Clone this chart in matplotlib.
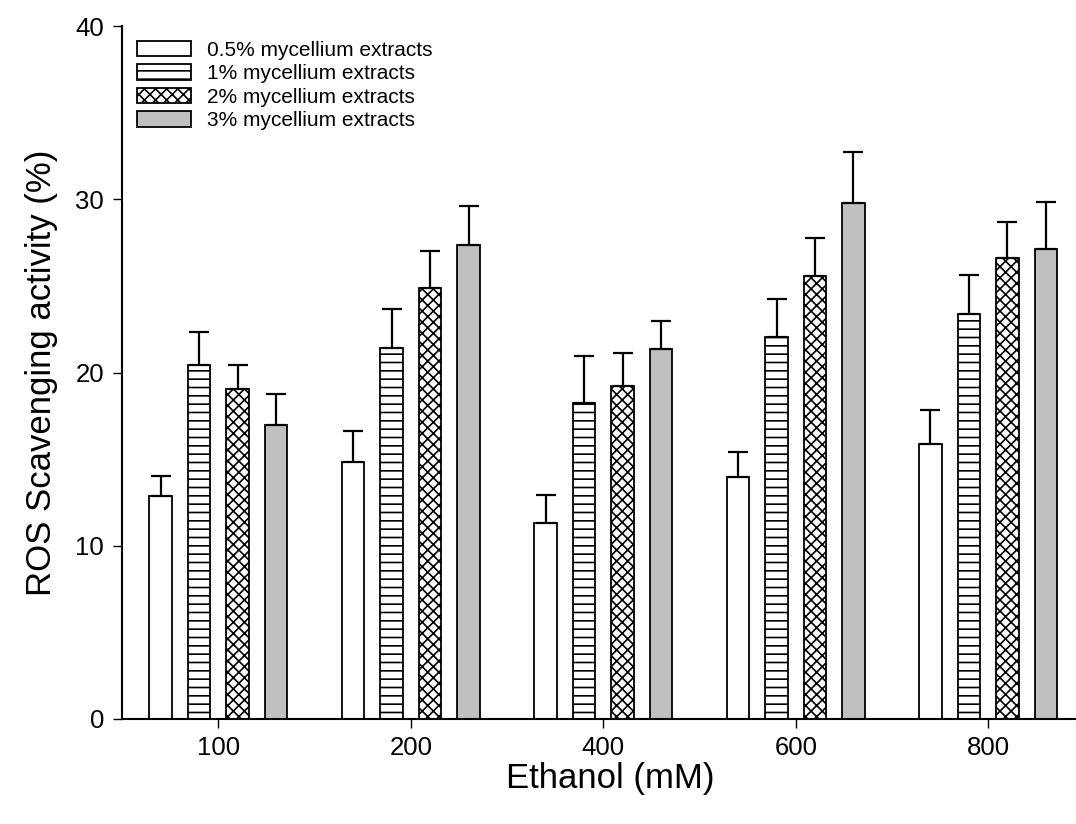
import matplotlib
matplotlib.use("Agg")
import matplotlib.pyplot as plt
import numpy as np

conc = ['100', '200', '400', '600', '800']
series = ['0.5% mycellium extracts', '1% mycellium extracts',
          '2% mycellium extracts', '3% mycellium extracts']
s05 = [12.9, 14.85, 11.3, 13.95, 15.9]
e05 = [1.15, 1.75, 1.65, 1.45, 1.95]
s1 = [20.45, 21.4, 18.25, 22.05, 23.4]
e1 = [1.9, 2.25, 2.7, 2.2, 2.25]
s2 = [19.05, 24.9, 19.2, 25.55, 26.6]
e2 = [1.4, 2.1, 1.95, 2.2, 2.1]
s3 = [16.95, 27.35, 21.35, 29.8, 27.15]
e3 = [1.8, 2.25, 1.6, 2.9, 2.7]

plt.rcParams['font.family'] = ['Liberation Sans', 'DejaVu Sans']
plt.rcParams['hatch.linewidth'] = 1.2

W, H = 1076, 824
fig = plt.figure(figsize=(W / 100, H / 100), dpi=100)
left, right, bottom, top = 121.5, 1076, 719, 26
ax = fig.add_axes([left / W, (H - bottom) / H, (right - left) / W, (bottom - top) / H])

x = np.arange(len(conc))
width = 0.118
offsets = [-0.3, -0.1, 0.1, 0.3]
vals = [s05, s1, s2, s3]
errs = [e05, e1, e2, e3]
faces = ['white', 'white', 'white', '#c0c0c0']
hatches = [None, '--', 'xxx', None]

for i in range(4):
    ax.bar(x + offsets[i], vals[i], width, color=faces[i], edgecolor='black',
           linewidth=1.3, hatch=hatches[i], label=series[i], zorder=2)
    ax.errorbar(x + offsets[i], vals[i], yerr=[np.zeros(len(conc)), errs[i]],
                fmt='none', ecolor='black', elinewidth=1.6, capsize=7.5,
                capthick=1.6, zorder=3)

ax.set_xlim(-0.503, 4.456)
ax.set_ylim(0, 40)
ax.set_xticks(x)
ax.set_xticklabels(conc)
ax.set_yticks([0, 10, 20, 30, 40])

for s in ['top', 'right']:
    ax.spines[s].set_visible(False)
for s in ['left', 'bottom']:
    ax.spines[s].set_linewidth(1.5)

ax.tick_params(axis='both', direction='out', length=6.5, width=1.0,
               labelsize=18.5, pad=6)

ax.set_xlabel('Ethanol (mM)', fontsize=25)
ax.set_ylabel('ROS Scavenging activity (%)', fontsize=25)
ax.xaxis.set_label_coords(0.5 + (610 - (left + right) / 2) / (right - left), -0.062)
ax.yaxis.set_label_coords((58 - left) / (right - left), 0.5)

leg = ax.legend(loc='upper left', bbox_to_anchor=(0.001, 1.0), frameon=False,
                fontsize=15, handlelength=2.6, handleheight=0.75,
                handletextpad=0.75, labelspacing=0.22, borderaxespad=0.3)

fig.savefig('out.png', dpi=100)
